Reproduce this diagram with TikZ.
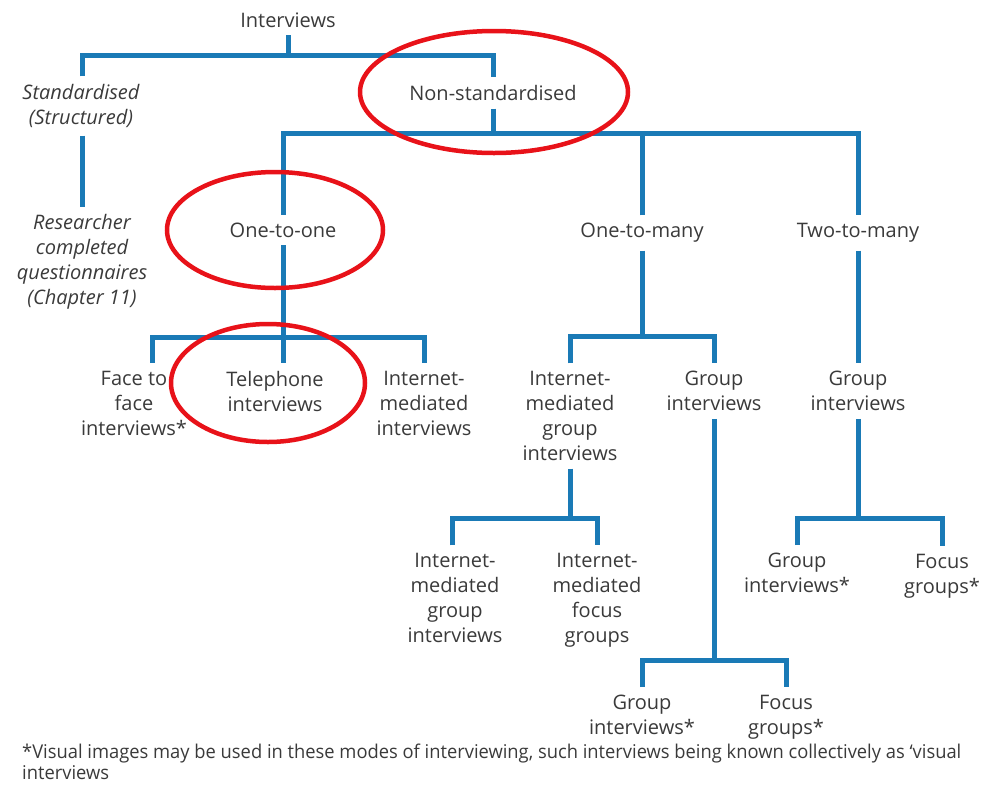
\documentclass[tikz,border=0pt]{standalone}
\usepackage{fontspec}
\setmainfont{Open Sans}
\newfontfamily\notefont[FakeStretch=0.965]{Open Sans}
\usetikzlibrary{calc}
\definecolor{branch}{HTML}{1A7AB6}
\definecolor{ink}{HTML}{3A3A3A}
\definecolor{ring}{HTML}{E81219}
\begin{document}
\begin{tikzpicture}[x=1pt,y=-1pt,
  lbl/.style={align=center,inner sep=0pt,outer ysep=8pt,text=ink,
    font=\fontsize{20}{25}\selectfont},
  ilbl/.style={lbl,font=\fontsize{20}{25}\selectfont\itshape},
  conn/.style={draw=branch,line width=5pt,line join=miter},
  halo/.style={draw=ring,line width=4.5pt}]
\useasboundingbox (0,0) rectangle (982,785);

% labels of the tree
\node[lbl]  (interviews) at (288,20)  {Interviews};
\node[ilbl] (std)        at (81,106)  {Standardised\\(Structured)};
\node[ilbl] (researcher) at (82,262)  {Researcher\\completed\\questionnaires\\(Chapter 11)};
\node[lbl]  (nonstd)     at (493,93)  {Non-standardised};
\node[lbl]  (onetoone)   at (283,230) {One-to-one};
\node[lbl]  (onetomany)  at (642,233) {One-to-many};
\node[lbl]  (twotomany)  at (858,233) {Two-to-many};
\node[lbl]  (f2f)        at (134,403) {Face to\\face\\interviews*};
\node[lbl]  (phone)      at (275,391) {Telephone\\interviews};
\node[lbl]  (imi)        at (424,403) {Internet-\\mediated\\interviews};
\node[lbl]  (img)        at (570,416) {Internet-\\mediated\\group\\interviews};
\node[lbl]  (giA)        at (714,391) {Group\\interviews};
\node[lbl]  (giB)        at (858,391) {Group\\interviews};
\node[lbl]  (imgi)       at (455,598) {Internet-\\mediated\\group\\interviews};
\node[lbl]  (imfg)       at (597,600) {Internet-\\mediated\\focus\\groups};
\node[lbl]  (giC)        at (797,573) {Group\\interviews*};
\node[lbl]  (fgC)        at (942,576) {Focus\\groups*};
\node[lbl]  (giD)        at (642,715) {Group\\interviews*};
\node[lbl]  (fgD)        at (786,717) {Focus\\groups*};
\node[anchor=north west,align=left,inner sep=0pt,text=ink,
      font=\notefont\fontsize{19}{21}\selectfont] (note) at (22,744)
  {*Visual images may be used in these modes of interviewing, such interviews being known collectively as ‘visual\\interviews};

% branches
\draw[conn] (interviews.south) -- (interviews.south |- 0,55);
\draw[conn] (researcher.north |- std.north) |- (nonstd.north |- 0,55) -- (nonstd.north);
\draw[conn] (researcher.north |- std.south) -- (researcher.north);

\draw[conn] (nonstd.south) -- (nonstd.south |- 0,133);
\draw[conn] (onetoone.north) |- (twotomany.north |- 0,133) -- (twotomany.north);
\draw[conn] (onetomany.north) -- (onetomany.north |- 0,133);

\draw[conn] (onetoone.south) -- (onetoone.south |- 0,337);
\draw[conn] ([xshift=18pt]f2f.north) |- (imi.north |- 0,337) -- (imi.north);
\draw[conn] (onetoone.south |- phone.north) -- (onetoone.south |- 0,337);

\draw[conn] (onetomany.south) -- (onetomany.south |- 0,336);
\draw[conn] (img.north) |- (giA.north |- 0,336) -- (giA.north);

\draw[conn] (img.south) -- (img.south |- 0,518);
\draw[conn] ([xshift=-3pt]imgi.north) |- (imfg.north |- 0,518) -- (imfg.north);

\draw[conn] (giA.south) -- (giA.south |- 0,660);
\draw[conn] (giD.north) |- (fgD.north |- 0,660) -- (fgD.north);

\draw[conn] (twotomany.south) -- (giB.north);
\draw[conn] (giB.south) -- (giB.south |- 0,518);
\draw[conn] (giC.north) |- (fgC.north |- 0,518) -- (fgC.north);

% highlighted branches
\draw[halo] ([xshift=1pt,yshift=1pt]nonstd.center) ellipse [x radius=134pt, y radius=61pt];
\draw[halo] ([xshift=-8pt]onetoone.center) ellipse [x radius=108pt, y radius=58pt];
\draw[halo] ([xshift=-7pt,yshift=8pt]phone.center) ellipse [x radius=97pt, y radius=59pt];
\end{tikzpicture}
\end{document}
